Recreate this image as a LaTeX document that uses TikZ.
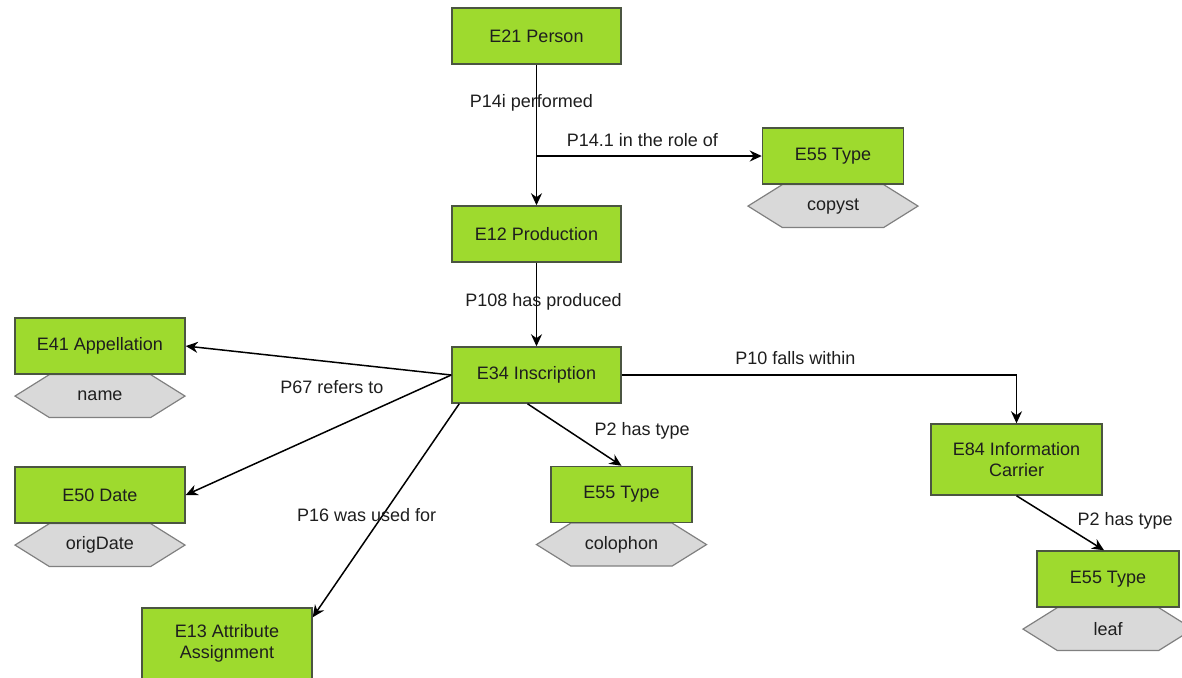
\documentclass[tikz,border=0pt]{standalone}
\usepackage{fontspec}
\setmainfont{Liberation Sans}
\usetikzlibrary{positioning,shapes.symbols,arrows.meta,backgrounds}
\definecolor{crmgreen}{RGB}{158,218,46}
\definecolor{crmedge}{RGB}{75,85,65}
\definecolor{crmgrey}{RGB}{217,217,217}
\definecolor{crmtext}{RGB}{30,30,30}
\tikzset{
    entity/.style={rectangle,draw=crmedge,fill=crmgreen,line width=0.75pt,minimum width=84.5pt,minimum height=28pt,inner sep=2pt,align=center,text=crmtext},
    value/.style={signal,signal to=west and east,signal pointer angle=64,draw=gray,fill=crmgrey,line width=0.6pt,minimum width=85pt,minimum height=21.5pt,inner sep=0pt,text=crmtext},
    link/.style={draw=black,line width=0.75pt,-{Stealth[length=6pt,width=5.5pt]}},
    prop/.style={text=crmtext,inner sep=0pt}
}

\begin{document}
\begin{tikzpicture}[x=0.5pt,y=-0.5pt,font=\fontsize{9}{10.5}\selectfont]
    \useasboundingbox (0,0) rectangle (1182,677);
    \node[entity] (person) at (536.5,36) {E21 Person};
    \node[entity] (prod) at (536.5,234) {E12 Production};
    \node[entity] (inscr) at (536.5,375) {E34 Inscription};
    \node[entity,minimum width=70.5pt] (role) at (833,156) {E55 Type};
    \node[entity,minimum width=85pt] (appel) at (100,346) {E41 Appellation};
    \node[entity,minimum width=85pt] (date) at (100,495) {E50 Date};
    \node[entity,minimum width=85pt,minimum height=35.5pt] (attr) at (227,643.5) {E13 Attribute\\Assignment};
    \node[entity,minimum width=70.5pt] (kind) at (621.5,494.5) {E55 Type};
    \node[entity,minimum width=85.5pt,minimum height=35.5pt] (carrier) at (1016.5,459.5) {E84 Information\\Carrier};
    \node[entity,minimum width=71pt] (leaftype) at (1108,579) {E55 Type};

    \begin{scope}[on background layer]
        \node[value,below=-0.4pt of role] (copyst) {copyst};
        \node[value,below=-0.4pt of appel] (name) {name};
        \node[value,below=-0.4pt of date] (origdate) {origDate};
        \node[value,below=-0.4pt of kind] (colophon) {colophon};
        \node[value,below=-0.4pt of leaftype] (leaf) {leaf};
    \end{scope}

    \coordinate (role in) at (536.5,156);
    \draw[link] (person) -- (prod) node[prop,pos=.27,xshift=-2.5pt] (p14i) {P14i performed};
    \draw[link] (role in) -- (role) node[prop,pos=.47,yshift=8pt] (p141) {P14.1 in the role of};
    \draw[link] (prod) -- (inscr) node[prop,pos=.47,xshift=3.5pt] (p108) {P108 has produced};
    \draw[link] (inscr.west) -- (appel.east) node[prop,pos=.45,yshift=-12.5pt] (p67) {P67 refers to};
    \draw[link] (inscr.west) -- (date.east);
    \draw[link] ([xshift=4pt]inscr.south west) -- ([yshift=-5pt]attr.north east) node[prop,pos=.52,xshift=-8.25pt] (p16) {P16 was used for};
    \draw[link] ([xshift=-4.5pt]inscr.south) -- (kind.north) node[prop,pos=.43,anchor=west,xshift=13pt] (p2a) {P2 has type};
    \draw[link] (inscr.east) -| (carrier.north) node[prop,pos=.22,yshift=8.5pt] (p10) {P10 falls within};
    \draw[link] (carrier.south) -- ([xshift=-2pt]leaftype.north) node[prop,pos=.46,anchor=west,xshift=10pt] (p2b) {P2 has type};
\end{tikzpicture}
\end{document}
